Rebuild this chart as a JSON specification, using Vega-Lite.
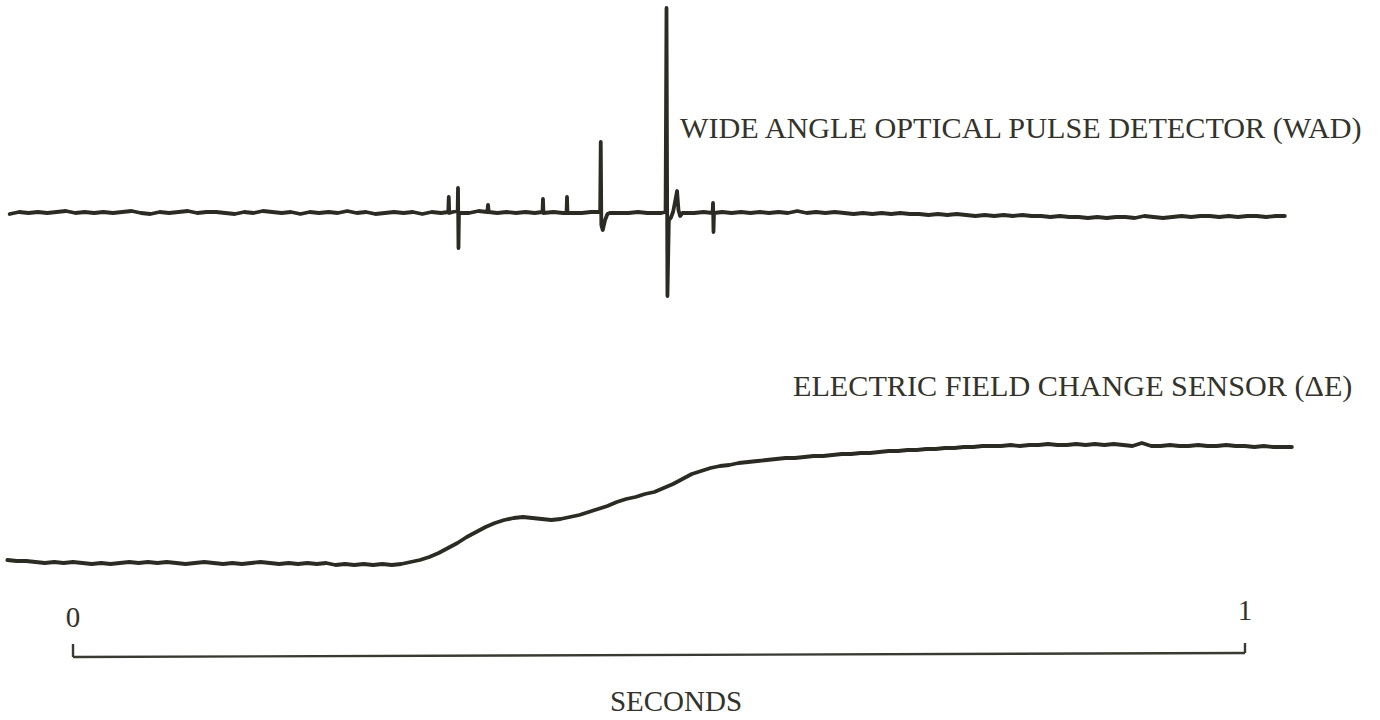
{
  "$schema": "https://vega.github.io/schema/vega-lite/v6.json",
  "width": 1380,
  "height": 720,
  "autosize": {"type": "fit", "contains": "padding"},
  "padding": 0,
  "background": "white",
  "config": {"view": {"stroke": null}},
  "datasets": {
    "wad": [
      {"t": -54, "v": 506}, {"t": -46, "v": 508}, {"t": -38, "v": 507}, {"t": -30, "v": 508}, {"t": -22, "v": 507},
      {"t": -14, "v": 508}, {"t": -6, "v": 509}, {"t": 2, "v": 507}, {"t": 10, "v": 508}, {"t": 18, "v": 507},
      {"t": 26, "v": 508}, {"t": 34, "v": 507}, {"t": 42, "v": 508}, {"t": 50, "v": 509}, {"t": 58, "v": 507},
      {"t": 66, "v": 506}, {"t": 74, "v": 508}, {"t": 82, "v": 507}, {"t": 90, "v": 508}, {"t": 98, "v": 509},
      {"t": 106, "v": 507}, {"t": 114, "v": 508}, {"t": 122, "v": 508}, {"t": 130, "v": 507}, {"t": 138, "v": 506},
      {"t": 146, "v": 508}, {"t": 154, "v": 507}, {"t": 162, "v": 509}, {"t": 170, "v": 508}, {"t": 178, "v": 507},
      {"t": 186, "v": 508}, {"t": 194, "v": 506}, {"t": 202, "v": 508}, {"t": 210, "v": 507}, {"t": 218, "v": 508},
      {"t": 226, "v": 507}, {"t": 234, "v": 509}, {"t": 242, "v": 507}, {"t": 250, "v": 508}, {"t": 258, "v": 506},
      {"t": 266, "v": 507}, {"t": 274, "v": 508}, {"t": 282, "v": 507}, {"t": 290, "v": 508}, {"t": 298, "v": 506},
      {"t": 306, "v": 508}, {"t": 314, "v": 507}, {"t": 320.2, "v": 508}, {"t": 320.6, "v": 523}, {"t": 321, "v": 507},
      {"t": 324, "v": 508}, {"t": 328.2, "v": 509}, {"t": 328.5, "v": 532}, {"t": 328.9, "v": 472}, {"t": 329.3, "v": 507},
      {"t": 338, "v": 507}, {"t": 346, "v": 509}, {"t": 353.5, "v": 508}, {"t": 354.1, "v": 515}, {"t": 354.7, "v": 508},
      {"t": 362, "v": 507}, {"t": 370, "v": 508}, {"t": 378, "v": 507}, {"t": 386, "v": 508}, {"t": 394, "v": 507},
      {"t": 400.6, "v": 508}, {"t": 401, "v": 521}, {"t": 401.4, "v": 507}, {"t": 410, "v": 508}, {"t": 418, "v": 507},
      {"t": 421.1, "v": 507}, {"t": 421.5, "v": 523}, {"t": 421.9, "v": 507}, {"t": 426, "v": 507}, {"t": 434, "v": 507},
      {"t": 442, "v": 508}, {"t": 449.8, "v": 508}, {"t": 450.3, "v": 578}, {"t": 450.8, "v": 495}, {"t": 452, "v": 490},
      {"t": 454, "v": 500}, {"t": 456, "v": 506}, {"t": 458, "v": 507}, {"t": 466, "v": 507}, {"t": 474, "v": 507},
      {"t": 482, "v": 508}, {"t": 490, "v": 507}, {"t": 498, "v": 507}, {"t": 502, "v": 507}, {"t": 505.6, "v": 508},
      {"t": 506.4, "v": 712}, {"t": 507.2, "v": 424}, {"t": 508.4, "v": 500}, {"t": 510, "v": 502}, {"t": 512, "v": 508},
      {"t": 514, "v": 520}, {"t": 515.4, "v": 529}, {"t": 516.6, "v": 510}, {"t": 518, "v": 504}, {"t": 520, "v": 507},
      {"t": 530, "v": 507}, {"t": 538, "v": 508}, {"t": 545.7, "v": 507}, {"t": 546.1, "v": 517}, {"t": 546.5, "v": 488},
      {"t": 546.9, "v": 507}, {"t": 554, "v": 508}, {"t": 562, "v": 507}, {"t": 570, "v": 508}, {"t": 578, "v": 507},
      {"t": 586, "v": 508}, {"t": 594, "v": 507}, {"t": 602, "v": 508}, {"t": 610, "v": 507}, {"t": 618, "v": 509},
      {"t": 626, "v": 507}, {"t": 634, "v": 508}, {"t": 642, "v": 507}, {"t": 650, "v": 508}, {"t": 658, "v": 507},
      {"t": 666, "v": 506}, {"t": 674, "v": 507}, {"t": 682, "v": 506}, {"t": 690, "v": 507}, {"t": 698, "v": 506},
      {"t": 706, "v": 507}, {"t": 714, "v": 506}, {"t": 722, "v": 506}, {"t": 730, "v": 505}, {"t": 738, "v": 506},
      {"t": 746, "v": 505}, {"t": 754, "v": 506}, {"t": 762, "v": 505}, {"t": 770, "v": 504}, {"t": 778, "v": 505},
      {"t": 786, "v": 504}, {"t": 794, "v": 505}, {"t": 802, "v": 504}, {"t": 810, "v": 505}, {"t": 818, "v": 504},
      {"t": 826, "v": 504}, {"t": 834, "v": 503}, {"t": 842, "v": 504}, {"t": 850, "v": 503}, {"t": 858, "v": 503},
      {"t": 866, "v": 502}, {"t": 874, "v": 503}, {"t": 882, "v": 502}, {"t": 890, "v": 503}, {"t": 898, "v": 503},
      {"t": 906, "v": 502}, {"t": 914, "v": 504}, {"t": 922, "v": 503}, {"t": 930, "v": 502}, {"t": 938, "v": 503},
      {"t": 946, "v": 504}, {"t": 954, "v": 503}, {"t": 962, "v": 504}, {"t": 970, "v": 504}, {"t": 978, "v": 503},
      {"t": 986, "v": 504}, {"t": 994, "v": 503}, {"t": 1002, "v": 504}, {"t": 1010, "v": 504}, {"t": 1018, "v": 503},
      {"t": 1026, "v": 504}, {"t": 1034, "v": 504}
    ],
    "de": [
      {"t": -56, "v": 160}, {"t": -48, "v": 159}, {"t": -40, "v": 159}, {"t": -32, "v": 158}, {"t": -24, "v": 157},
      {"t": -16, "v": 158}, {"t": -8, "v": 157}, {"t": 0, "v": 158}, {"t": 8, "v": 157}, {"t": 16, "v": 156},
      {"t": 24, "v": 157}, {"t": 32, "v": 156}, {"t": 40, "v": 157}, {"t": 48, "v": 158}, {"t": 56, "v": 157},
      {"t": 64, "v": 158}, {"t": 72, "v": 157}, {"t": 80, "v": 158}, {"t": 88, "v": 157}, {"t": 96, "v": 156},
      {"t": 104, "v": 157}, {"t": 112, "v": 158}, {"t": 120, "v": 157}, {"t": 128, "v": 156}, {"t": 136, "v": 157},
      {"t": 144, "v": 156}, {"t": 152, "v": 157}, {"t": 160, "v": 158}, {"t": 168, "v": 157}, {"t": 176, "v": 156},
      {"t": 184, "v": 157}, {"t": 192, "v": 156}, {"t": 200, "v": 157}, {"t": 208, "v": 156}, {"t": 216, "v": 157},
      {"t": 224, "v": 155}, {"t": 232, "v": 156}, {"t": 240, "v": 155}, {"t": 248, "v": 156}, {"t": 256, "v": 155},
      {"t": 264, "v": 156}, {"t": 272, "v": 155}, {"t": 280, "v": 156}, {"t": 288, "v": 158}, {"t": 296, "v": 160},
      {"t": 304, "v": 163}, {"t": 312, "v": 167}, {"t": 320, "v": 172}, {"t": 328, "v": 177}, {"t": 336, "v": 183},
      {"t": 344, "v": 188}, {"t": 352, "v": 193}, {"t": 360, "v": 197}, {"t": 368, "v": 200}, {"t": 376, "v": 202},
      {"t": 384, "v": 203}, {"t": 392, "v": 202}, {"t": 400, "v": 201}, {"t": 408, "v": 200}, {"t": 416, "v": 201},
      {"t": 424, "v": 203}, {"t": 432, "v": 205}, {"t": 440, "v": 208}, {"t": 448, "v": 211}, {"t": 456, "v": 214},
      {"t": 464, "v": 218}, {"t": 472, "v": 221}, {"t": 480, "v": 223}, {"t": 488, "v": 226}, {"t": 496, "v": 228},
      {"t": 504, "v": 232}, {"t": 512, "v": 236}, {"t": 520, "v": 241}, {"t": 528, "v": 246}, {"t": 536, "v": 249},
      {"t": 544, "v": 252}, {"t": 552, "v": 254}, {"t": 560, "v": 255}, {"t": 568, "v": 257}, {"t": 576, "v": 258},
      {"t": 584, "v": 259}, {"t": 592, "v": 260}, {"t": 600, "v": 261}, {"t": 608, "v": 262}, {"t": 616, "v": 262},
      {"t": 624, "v": 263}, {"t": 632, "v": 264}, {"t": 640, "v": 264}, {"t": 648, "v": 265}, {"t": 656, "v": 266},
      {"t": 664, "v": 266}, {"t": 672, "v": 267}, {"t": 680, "v": 267}, {"t": 688, "v": 268}, {"t": 696, "v": 269},
      {"t": 704, "v": 269}, {"t": 712, "v": 270}, {"t": 720, "v": 270}, {"t": 728, "v": 271}, {"t": 736, "v": 271},
      {"t": 744, "v": 272}, {"t": 752, "v": 272}, {"t": 760, "v": 273}, {"t": 768, "v": 273}, {"t": 776, "v": 274},
      {"t": 784, "v": 274}, {"t": 792, "v": 274}, {"t": 800, "v": 275}, {"t": 808, "v": 274}, {"t": 816, "v": 275},
      {"t": 824, "v": 275}, {"t": 832, "v": 276}, {"t": 840, "v": 275}, {"t": 848, "v": 275}, {"t": 856, "v": 276},
      {"t": 864, "v": 275}, {"t": 872, "v": 276}, {"t": 880, "v": 275}, {"t": 888, "v": 276}, {"t": 896, "v": 275},
      {"t": 904, "v": 274}, {"t": 912, "v": 277}, {"t": 920, "v": 274}, {"t": 928, "v": 274}, {"t": 936, "v": 275},
      {"t": 944, "v": 274}, {"t": 952, "v": 274}, {"t": 960, "v": 275}, {"t": 968, "v": 274}, {"t": 976, "v": 274},
      {"t": 984, "v": 275}, {"t": 992, "v": 274}, {"t": 1000, "v": 274}, {"t": 1008, "v": 273}, {"t": 1016, "v": 274},
      {"t": 1024, "v": 273}, {"t": 1032, "v": 273}, {"t": 1040, "v": 273}
    ],
    "bar": [
      {"t": 0, "v": 76, "t2": 0, "v2": 63},
      {"t": 0, "v": 63, "t2": 1000, "v2": 67},
      {"t": 1000, "v": 67, "t2": 1000, "v2": 77}
    ],
    "labels": [
      {"t": 517.9, "v": 582, "label": "WIDE ANGLE OPTICAL PULSE DETECTOR (WAD)"},
      {"t": 614.3, "v": 324, "label": "ELECTRIC FIELD CHANGE SENSOR (ΔE)"}
    ],
    "centered": [
      {"t": 0, "v": 102, "label": "0"},
      {"t": 1000, "v": 109, "label": "1"},
      {"t": 514.5, "v": 18, "label": "SECONDS"}
    ]
  },
  "layer": [
    {
      "data": {"name": "wad"},
      "mark": {"type": "line", "color": "#2b2b24", "strokeWidth": 3.8, "strokeJoin": "round", "strokeCap": "round"},
      "encoding": {
        "x": {"field": "t", "type": "quantitative", "scale": {"domain": [-62.3, 1115.2], "nice": false, "zero": false}, "axis": null},
        "y": {"field": "v", "type": "quantitative", "scale": {"domain": [0, 720], "nice": false, "zero": false}, "axis": null}
      }
    },
    {
      "data": {"name": "de"},
      "mark": {"type": "line", "color": "#2b2b24", "strokeWidth": 3.8, "strokeJoin": "round", "strokeCap": "round"},
      "encoding": {
        "x": {"field": "t", "type": "quantitative"},
        "y": {"field": "v", "type": "quantitative"}
      }
    },
    {
      "data": {"name": "bar"},
      "mark": {"type": "rule", "color": "#3a3a32", "strokeWidth": 2.4},
      "encoding": {
        "x": {"field": "t", "type": "quantitative"},
        "y": {"field": "v", "type": "quantitative"},
        "x2": {"field": "t2"},
        "y2": {"field": "v2"}
      }
    },
    {
      "data": {"name": "labels"},
      "mark": {"type": "text", "align": "left", "baseline": "alphabetic", "font": "Liberation Serif", "fontSize": 30.2, "color": "#33332b"},
      "encoding": {
        "x": {"field": "t", "type": "quantitative"},
        "y": {"field": "v", "type": "quantitative"},
        "text": {"field": "label"}
      }
    },
    {
      "data": {"name": "centered"},
      "mark": {"type": "text", "align": "center", "baseline": "middle", "font": "Liberation Serif", "fontSize": 29, "color": "#33332b"},
      "encoding": {
        "x": {"field": "t", "type": "quantitative"},
        "y": {"field": "v", "type": "quantitative"},
        "text": {"field": "label"}
      }
    }
  ]
}
